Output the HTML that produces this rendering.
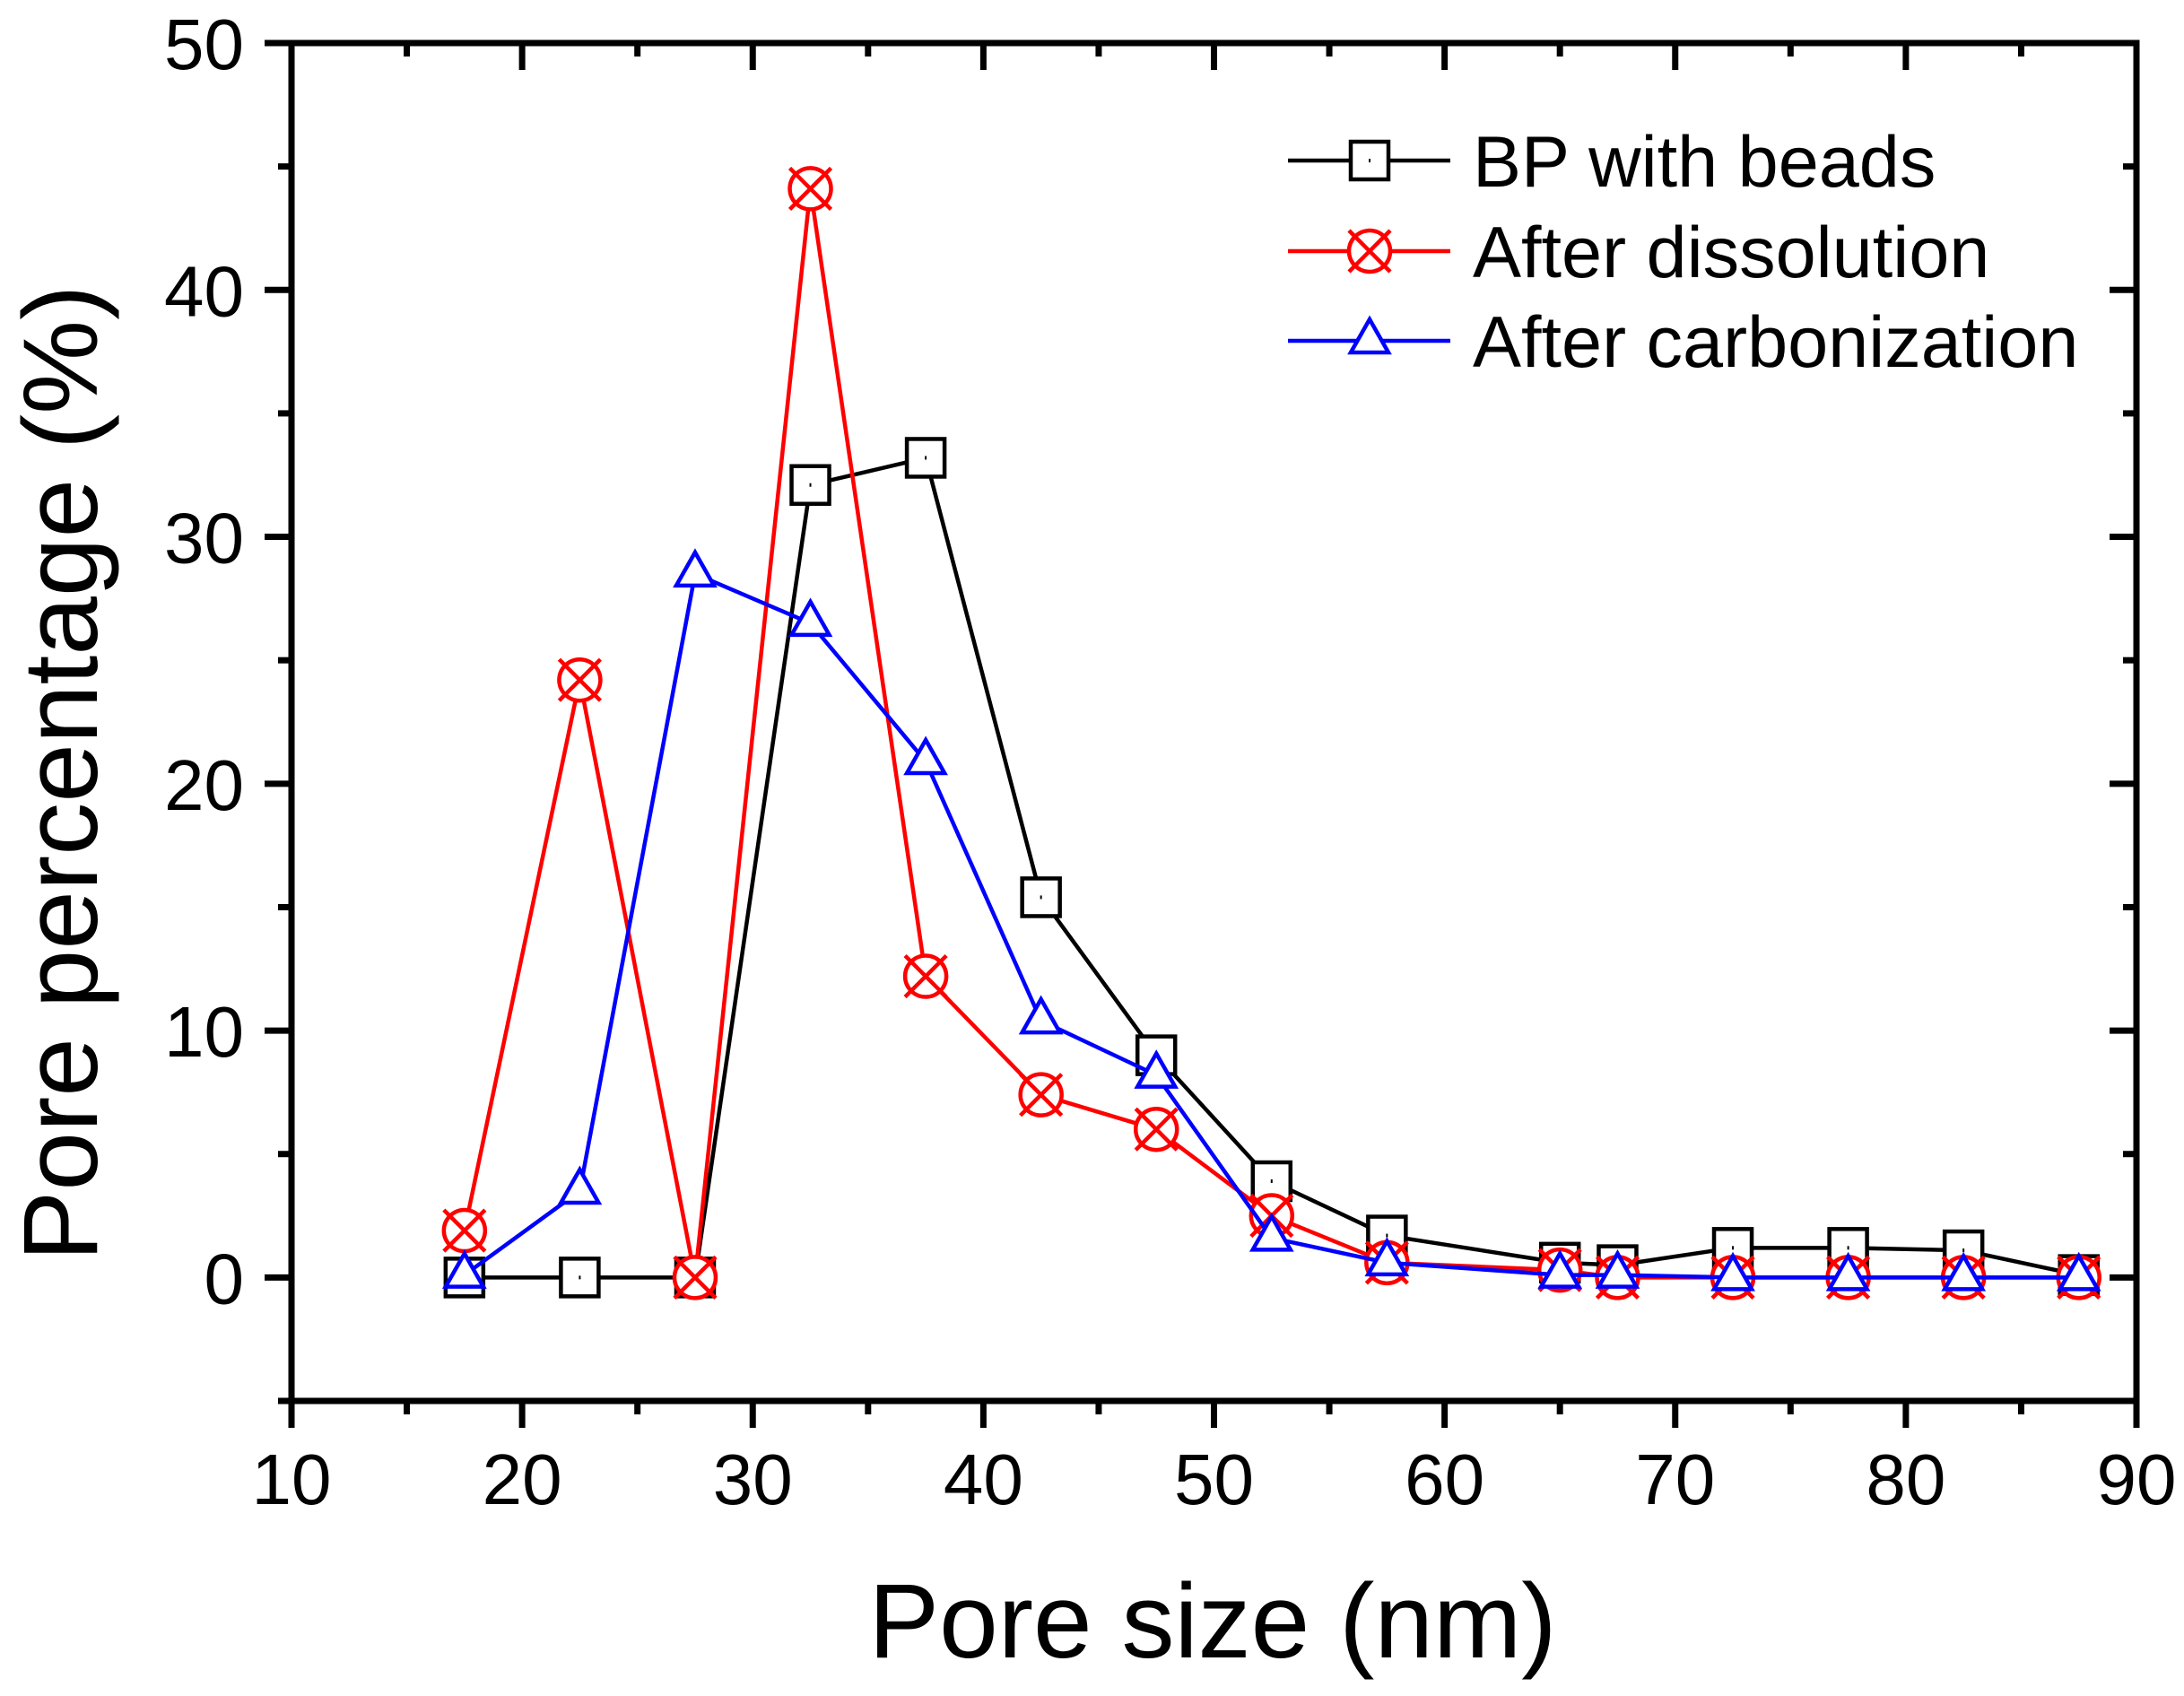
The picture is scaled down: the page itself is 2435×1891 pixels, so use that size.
<!DOCTYPE html>
<html><head><meta charset="utf-8"><style>
html,body{margin:0;padding:0;background:#fff;}
svg{display:block;}
text{font-family:"Liberation Sans",Arial,sans-serif;fill:#000;}
</style></head><body>
<svg id="chart" width="2435" height="1891" viewBox="0 0 2435 1891" xmlns="http://www.w3.org/2000/svg">
<g id="axes"></g>
<g id="series"></g>
<g id="legend"></g>
<text x="1352" y="1848" font-size="118" text-anchor="middle">Pore size (nm)</text>
<text transform="translate(108,862) rotate(-90)" font-size="118" text-anchor="middle">Pore percentage (%)</text>
</svg>
<script>
const xValues = [17.5,22.5,27.5,32.5,37.5,42.5,47.5,52.5,57.5,65,67.5,72.5,77.5,82.5,87.5];
const bpBeads = [0,0,0,32.1,33.2,15.4,9.0,3.9,1.7,0.6,0.5,1.2,1.2,1.1,0.1];
const afterDissolution = [1.9,24.2,0,44.1,12.2,7.4,6.0,2.5,0.6,0.3,0,0,0,0,0];
const afterCarbonization = [0.1,3.5,28.5,26.5,20.9,10.4,8.2,1.6,0.6,0.1,0.1,0,0,0,0];
const xTicks = [10,20,30,40,50,60,70,80,90];
const yTicks = [0,10,20,30,40,50];
const seriesNames = ["BP with beads","After dissolution","After carbonization"];

const L=325,R=2382,T=48,B=1562;
const X0=10,X1=90,Y0=-5,Y1=50;
const sx=v=>L+(v-X0)/(X1-X0)*(R-L);
const sy=v=>B-(v-Y0)/(Y1-Y0)*(B-T);
const NS="http://www.w3.org/2000/svg";
function mk(tag,attrs,parent){const e=document.createElementNS(NS,tag);for(const k in attrs)e.setAttribute(k,attrs[k]);parent.appendChild(e);return e;}
const axes=document.getElementById('axes');
const series=document.getElementById('series');
const legend=document.getElementById('legend');

for(let v=X0;v<=X1;v+=5){
  const major=v%10===0; const x=sx(v);
  const t=mk('line',{x1:x,x2:x,y1:B,y2:B+(major?30:15),stroke:'#000','stroke-width':7},axes);
  
  
  const t2=mk('line',{x1:x,x2:x,y1:T,y2:T+(major?30:15),stroke:'#000','stroke-width':7},axes);
  
  
}
for(let v=Y0;v<=Y1;v+=5){
  const major=v%10===0; const y=sy(v);
  const t=mk('line',{x1:L,x2:L-(major?30:15),y1:y,y2:y,stroke:'#000','stroke-width':7},axes);
  
  
  const t2=mk('line',{x1:R,x2:R-(major?30:15),y1:y,y2:y,stroke:'#000','stroke-width':7},axes);
  
  
}
xTicks.forEach(v=>{
  const t=mk('text',{x:sx(v),y:1677,'font-size':80,'text-anchor':'middle'},axes);
  t.textContent=v;
  
  
});
yTicks.forEach(v=>{
  const t=mk('text',{x:272,y:sy(v)+29,'font-size':80,'text-anchor':'end'},axes);
  t.textContent=v;
  
  
});
const frame=mk('rect',{x:L,y:T,width:R-L,height:B-T,fill:'none',stroke:'#000','stroke-width':7},axes);



function marker(type,x,y,color,parent){
  const g=mk('g',{},parent);
  if(type==='sq'){
    mk('rect',{x:x-21,y:y-21,width:42,height:42,fill:'#fff',stroke:color,'stroke-width':4.5},g);
    mk('line',{x1:x,x2:x,y1:y-2,y2:y+2,stroke:color,'stroke-width':2},g);
  }else if(type==='ci'){
    mk('circle',{cx:x,cy:y,r:23,fill:'#fff',stroke:color,'stroke-width':4.5},g);
    mk('line',{x1:x-23,y1:y-23,x2:x+23,y2:y+23,stroke:color,'stroke-width':4.5},g);
    mk('line',{x1:x-23,y1:y+23,x2:x+23,y2:y-23,stroke:color,'stroke-width':4.5},g);
  }else{
    mk('polygon',{points:`${x},${y-24} ${x+21},${y+13} ${x-21},${y+13}`,fill:'#fff',stroke:color,'stroke-width':4.5},g);
  }
  return g;
}
const defs=[[bpBeads,'#000','sq','bp-with-beads'],[afterDissolution,'#ff0000','ci','after-dissolution'],[afterCarbonization,'#0000ff','tr','after-carbonization']];
defs.forEach(([vals,color,type,name])=>{
  const g=mk('g',{},series);
  
  
  const pts=xValues.map((x,i)=>sx(x)+','+sy(vals[i])).join(' ');
  const pl=mk('polyline',{points:pts,fill:'none',stroke:color,'stroke-width':4.5,'stroke-linejoin':'round'},g);
  
  
  xValues.forEach((x,i)=>{
    const m=marker(type,sx(x),sy(vals[i]),color,g);
    
    
  });
});
const rows=[179,280,380];
defs.forEach(([vals,color,type,name],i)=>{
  const g=mk('g',{},legend);
  
  
  mk('line',{x1:1436,x2:1617,y1:rows[i],y2:rows[i],stroke:color,'stroke-width':4.5},g);
  marker(type,1527,rows[i],color,g);
  const t=mk('text',{x:1642,y:rows[i]+29,'font-size':81},g);
  t.textContent=seriesNames[i];
});
</script>
</body></html>
